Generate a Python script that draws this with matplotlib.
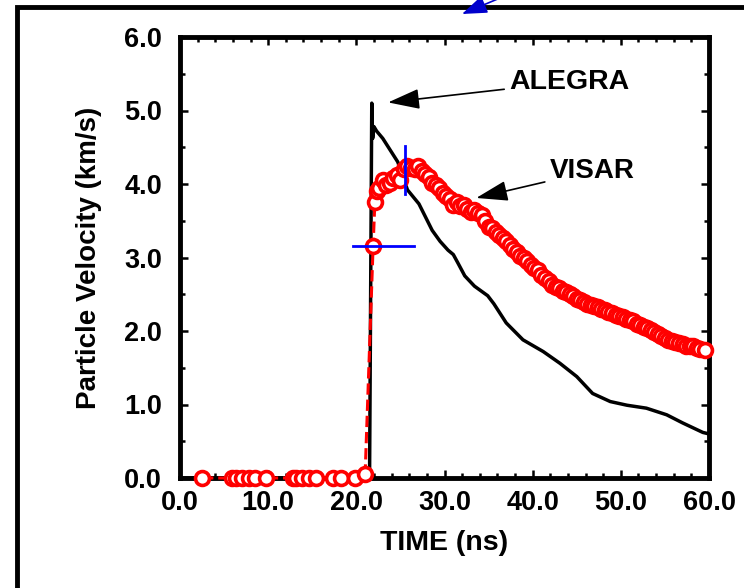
import matplotlib.pyplot as plt
from matplotlib.patches import Rectangle, FancyArrowPatch
from matplotlib.ticker import MultipleLocator

plt.rcParams.update({'font.family': 'Liberation Sans', 'font.weight': 'bold'})

# ALEGRA simulation (black line)
alegra_t = [0.0, 21.5, 21.75, 21.85, 22.0, 22.3, 23.0, 24.7, 25.8, 27.1, 28.6, 29.5,
            30.4, 31.0, 31.5, 32.3, 33.4, 34.9, 35.6, 37.0, 38.9, 41.2, 43.1, 45.0,
            46.8, 48.8, 50.7, 52.9, 55.2, 57.0, 59.3, 60.0]
alegra_v = [0.0, 0.0, 5.10, 4.62, 4.78, 4.72, 4.62, 4.30, 3.92, 3.73, 3.37, 3.22,
            3.10, 3.04, 2.93, 2.75, 2.61, 2.48, 2.37, 2.11, 1.88, 1.72, 1.56, 1.38,
            1.15, 1.04, 0.99, 0.95, 0.86, 0.75, 0.62, 0.60]

# VISAR measurement (red circles)
visar_t = [2.5, 5.9, 6.4, 7.0, 7.8, 8.5, 9.7, 12.8, 13.2, 13.8, 14.6, 15.4, 17.3,
           18.3, 19.8, 21.0, 21.9, 22.1, 22.3, 22.6, 23.0, 23.4, 23.8, 24.2, 24.6,
           25.0, 25.4, 25.8, 26.2, 26.6, 27.0, 27.4, 27.8, 28.2, 28.6, 29.0, 29.4,
           29.8, 30.2, 30.6, 31.0, 31.4, 31.8, 32.2, 32.6, 33.0, 33.4, 33.8, 34.2,
           34.6, 35.0, 35.4, 35.8, 36.2, 36.6, 37.0, 37.4, 37.8, 38.2, 38.6, 39.0,
           39.4, 39.8, 40.2, 40.6, 41.0, 41.4, 41.8, 42.2, 42.6, 43.0, 43.4, 43.8,
           44.2, 44.6, 45.0, 45.4, 45.8, 46.2, 46.6, 47.0, 47.4, 47.8, 48.2, 48.6,
           49.0, 49.4, 49.8, 50.2, 50.6, 51.0, 51.4, 51.8, 52.2, 52.6, 53.0, 53.4,
           53.8, 54.2, 54.6, 55.0, 55.4, 55.8, 56.2, 56.6, 57.0, 57.4, 57.8, 58.2,
           58.6, 59.0, 59.5]
visar_v = [0.0, 0.0, 0.0, 0.0, 0.0, 0.0, 0.0, 0.0, 0.0, 0.0, 0.0, 0.0, 0.0,
           0.0, 0.0, 0.06, 3.15, 3.75, 3.90, 3.95, 4.05, 3.98, 4.02, 4.08, 4.12,
           4.05, 4.20, 4.25, 4.22, 4.20, 4.24, 4.18, 4.14, 4.10, 4.02, 3.98, 3.95,
           3.88, 3.84, 3.80, 3.72, 3.76, 3.70, 3.72, 3.66, 3.62, 3.64, 3.60, 3.58,
           3.50, 3.42, 3.40, 3.35, 3.30, 3.26, 3.22, 3.17, 3.12, 3.08, 3.02, 2.99,
           2.95, 2.90, 2.86, 2.83, 2.76, 2.72, 2.68, 2.62, 2.60, 2.58, 2.55, 2.53,
           2.50, 2.47, 2.44, 2.42, 2.40, 2.37, 2.36, 2.34, 2.33, 2.30, 2.28, 2.26,
           2.25, 2.22, 2.20, 2.19, 2.17, 2.15, 2.13, 2.10, 2.08, 2.06, 2.04, 2.02,
           1.98, 1.96, 1.93, 1.90, 1.88, 1.86, 1.85, 1.83, 1.82, 1.80, 1.80, 1.79,
           1.77, 1.76, 1.74]

fig = plt.figure(figsize=(7.44, 5.88), dpi=100)
ax = fig.add_axes([180/744, 1 - 478/588, 529/744, 441/588])

ax.plot(alegra_t, alegra_v, color='black', lw=2.5, zorder=3)
ax.plot(visar_t, visar_v, color='red', ls='--', lw=2.2, marker='o', ms=10,
        mfc='white', mec='red', mew=2.6, zorder=4, clip_on=False)

# blue cross marks
ax.plot([19.6, 26.5], [3.15, 3.15], color='blue', lw=2, zorder=5)
ax.plot([25.5, 25.5], [3.86, 4.52], color='blue', lw=2, zorder=5)

ax.set_xlim(0, 60)
ax.set_ylim(0, 6)
ax.xaxis.set_major_locator(MultipleLocator(10))
ax.xaxis.set_minor_locator(MultipleLocator(2))
ax.yaxis.set_major_locator(MultipleLocator(1))
ax.yaxis.set_minor_locator(MultipleLocator(0.5))
ax.xaxis.set_major_formatter(lambda v, p: f'{v:.1f}')
ax.yaxis.set_major_formatter(lambda v, p: f'{v:.1f}')
for s in ax.spines.values():
    s.set_linewidth(3.5)
ax.tick_params(which='both', direction='in', top=True, right=True, width=1.8)
ax.tick_params(which='major', length=6)
ax.tick_params(which='minor', length=3.5)
ax.tick_params(axis='x', labelsize=19.5, pad=9)
ax.tick_params(axis='y', labelsize=19.5, pad=13)

ax.set_xlabel('TIME (ns)', fontsize=20.5, fontweight='bold', labelpad=10)
ax.set_ylabel('Particle Velocity (km/s)', fontsize=20, fontweight='bold', labelpad=16)

ax.annotate('ALEGRA', xy=(23.6, 5.11), xytext=(37.4, 5.39), fontsize=20.5,
            fontweight='bold', va='center', ha='left',
            arrowprops=dict(arrowstyle='-|>,head_length=1.4,head_width=0.45',
                            color='black', lw=1.2, shrinkA=2, shrinkB=0,
                            mutation_scale=14))
ax.annotate('VISAR', xy=(33.6, 3.81), xytext=(42.0, 4.18), fontsize=20,
            fontweight='bold', va='center', ha='left',
            arrowprops=dict(arrowstyle='-|>,head_length=1.4,head_width=0.45',
                            color='black', lw=1.2, shrinkA=2, shrinkB=0,
                            mutation_scale=14))

# outer frame and the blue arrow coming in from above
fig.add_artist(Rectangle((17/744, -0.1), 1.0, 1.1 - 7/588, transform=fig.transFigure,
                         fill=False, ec='black', lw=3.5))
fig.add_artist(FancyArrowPatch((500/744, 1 + 2/588), (462/744, 1 - 14/588),
                               transform=fig.transFigure, color='#0000cc',
                               arrowstyle='-|>,head_length=1.1,head_width=0.4',
                               mutation_scale=14, lw=1.2, shrinkA=0, shrinkB=0))

fig.savefig('out.png', dpi=100)
